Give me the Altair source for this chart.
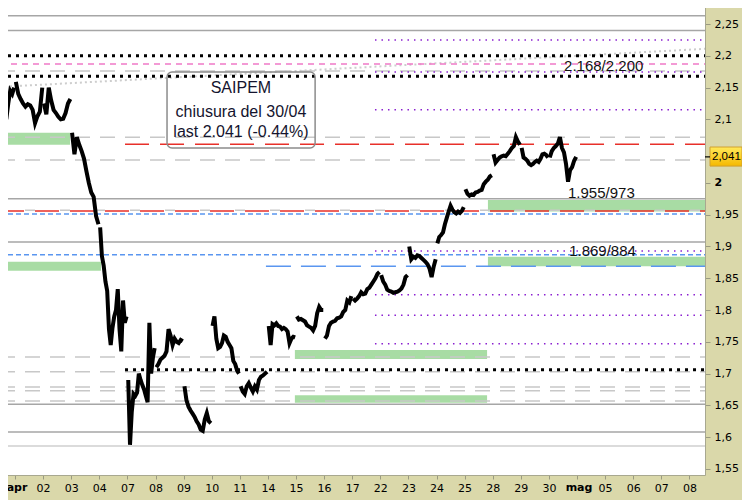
import altair as alt
import pandas as pd

# ---------------- data ----------------
DAY_LABELS = ["apr", "02", "03", "04", "07", "08", "09", "10", "11", "14", "15", "16",
              "17", "22", "23", "24", "25", "28", "29", "30", "mag", "05", "06", "07", "08"]
MONTH_DAYS = [0, 20]   # ticks whose label is a month name (shown bold)

# tail of the previous session (31/03), explicit positions in trading-day units
PRE_TIMES = [-0.52, -0.45, -0.38, -0.31, -0.24, -0.17, -0.10, -0.03]
PRE_PRICES = [2.112, 2.104, 2.118, 2.100, 2.125, 2.145, 2.140, 2.150]

# intraday prices, one list per trading day (evenly spread across the session)
DAY_PRICES = [
    [2.159, 2.140, 2.132, 2.125, 2.120, 2.124, 2.122, 2.115, 2.094, 2.105, 2.112, 2.150],
    [2.125, 2.108, 2.150, 2.130, 2.115, 2.110, 2.104, 2.100, 2.101, 2.110, 2.125, 2.132],
    [2.079, 2.045, 2.072, 2.060, 2.050, 2.038, 2.018, 2.000, 1.985, 1.978, 1.948, 1.935],
    [1.930, 1.885, 1.870, 1.845, 1.830, 1.770, 1.745, 1.772, 1.790, 1.800, 1.833, 1.770,
     1.735, 1.815, 1.780, 1.790],
    [1.690, 1.588, 1.640, 1.668, 1.665, 1.670, 1.700, 1.690, 1.682, 1.675, 1.665, 1.655,
     1.780, 1.700, 1.725, 1.740],
    [1.710, 1.715, 1.722, 1.725, 1.728, 1.735, 1.770, 1.760, 1.745, 1.755, 1.750, 1.748,
     1.753, 1.751],
    [1.680, 1.658, 1.648, 1.642, 1.637, 1.632, 1.625, 1.620, 1.612, 1.610, 1.628, 1.638,
     1.625, 1.622],
    [1.775, 1.790, 1.755, 1.740, 1.742, 1.748, 1.760, 1.758, 1.750, 1.745, 1.740, 1.720,
     1.715, 1.705, 1.700],
    [1.680, 1.672, 1.668, 1.680, 1.685, 1.678, 1.672, 1.680, 1.675, 1.690, 1.695, 1.697,
     1.700, 1.703],
    [1.775, 1.745, 1.778, 1.776, 1.779, 1.775, 1.774, 1.770, 1.772, 1.770, 1.766, 1.748,
     1.755, 1.758, 1.757],
    [1.790, 1.785, 1.786, 1.784, 1.782, 1.776, 1.774, 1.772, 1.768, 1.775, 1.795, 1.805,
     1.800, 1.800],
    [1.755, 1.760, 1.775, 1.780, 1.782, 1.783, 1.787, 1.788, 1.790, 1.797, 1.800, 1.815,
     1.812, 1.822],
    [1.818, 1.815, 1.818, 1.822, 1.828, 1.825, 1.826, 1.833, 1.835, 1.840, 1.845, 1.850,
     1.857, 1.860],
    [1.855, 1.845, 1.840, 1.832, 1.830, 1.829, 1.827, 1.828, 1.829, 1.831, 1.834, 1.840,
     1.852, 1.855],
    [1.900, 1.880, 1.884, 1.882, 1.886, 1.885, 1.882, 1.879, 1.876, 1.872, 1.865, 1.852,
     1.868, 1.880],
    [1.905, 1.915, 1.918, 1.922, 1.935, 1.945, 1.955, 1.964, 1.958, 1.954, 1.952, 1.955,
     1.953, 1.956, 1.962],
    [1.990, 1.983, 1.980, 1.982, 1.981, 1.985, 1.986, 1.988, 1.989, 1.998, 2.002, 2.005,
     2.010, 2.012],
    [2.045, 2.032, 2.036, 2.040, 2.042, 2.043, 2.042, 2.046, 2.050, 2.055, 2.058, 2.072,
     2.065, 2.060],
    [2.055, 2.040, 2.038, 2.035, 2.030, 2.028, 2.030, 2.033, 2.035, 2.033, 2.038, 2.045,
     2.046, 2.044, 2.040],
    [2.040, 2.050, 2.055, 2.058, 2.062, 2.072, 2.055, 2.048, 2.030, 2.002, 2.020, 2.025,
     2.035, 2.041],
]

X_MIN, X_MAX = -0.534, 24.555
Y_MIN, Y_MAX = 1.5405, 2.2878

# horizontal levels: value, start, style
LEVEL_VALUES = [2.263, 2.240, 2.225, 2.200, 2.187, 2.176, 2.1745, 2.168, 2.115, 2.072,
                2.061, 2.036, 1.975, 1.957, 1.956, 1.951, 1.907, 1.893, 1.887, 1.869,
                1.824, 1.792, 1.747, 1.726, 1.706, 1.703, 1.679, 1.673, 1.657, 1.652,
                1.608, 1.586]
LEVEL_START = [X_MIN, X_MIN, 12.81, X_MIN, X_MIN, X_MIN, 12.81, X_MIN, 12.81, X_MIN,
               3.915, X_MIN, X_MIN, X_MIN, X_MIN, X_MIN, X_MIN, 12.81, X_MIN, 8.93,
               12.81, 12.81, 12.81, X_MIN, 3.915, X_MIN, X_MIN, X_MIN, X_MIN, X_MIN,
               X_MIN, X_MIN]
LEVEL_STYLE = ["gsolid", "gsolid", "purple", "black", "pink", "gdash", "purple", "black",
               "purple", "gdash", "red", "gdash", "gsolid", "gdash2", "red", "blue",
               "gsolid", "purple", "blue", "bluelong", "purple", "purple", "purple",
               "gdash", "black", "gdash", "gdash", "gdash", "gdash", "gsolid", "gsolid",
               "glight"]

STYLES = {
    "gsolid": dict(color="#a6a6a6", strokeWidth=1.5),
    "glight": dict(color="#cfcfcf", strokeWidth=1.5),
    "gdash": dict(color="#c8c8c8", strokeWidth=1.5, strokeDash=[15, 10]),
    "gdash2": dict(color="#c8c8c8", strokeWidth=1.5, strokeDash=[10, 25], strokeDashOffset=-25),
    "red": dict(color="#e8302a", strokeWidth=1.5, strokeDash=[24, 11]),
    "blue": dict(color="#5a96f0", strokeWidth=1.5, strokeDash=[5, 3]),
    "bluelong": dict(color="#5a96f0", strokeWidth=1.5, strokeDash=[25, 10]),
    "pink": dict(color="#f07ac8", strokeWidth=1.5, strokeDash=[6, 5]),
    "purple": dict(color="#8a1ed0", strokeWidth=1.5, strokeDash=[1.5, 5]),
    "black": dict(color="#000000", strokeWidth=3, strokeDash=[3, 5]),
}

# support / resistance bands
BAND_X1 = [X_MIN, X_MIN, 16.83, 16.83, 9.96, 9.96]
BAND_X2 = [1.96, 3.06, X_MAX, X_MAX, 16.80, 16.80]
BAND_LOW = [2.060, 1.862, 1.955, 1.869, 1.723, 1.654]
BAND_HIGH = [2.079, 1.876, 1.973, 1.884, 1.737, 1.666]

# trend line
TREND_T = [X_MIN, X_MAX]
TREND_P = [2.151, 2.211]

# annotation texts
BOX_LINES = ["SAIPEM", "chiusura del 30/04", "last 2.041 (-0.44%)"]
BOX_LINE_Y = [2.142, 2.104, 2.072]
LEVEL_LABELS = ["2.168/2.200", "1.955/973", "1.869/884"]
LEVEL_LABEL_T = [19.54, 19.68, 19.72]
LEVEL_LABEL_Y = [2.176, 1.976, 1.885]
LAST_PRICE = 2.041

Y_TICKS = [1.55, 1.6, 1.65, 1.7, 1.75, 1.8, 1.85, 1.9, 1.95, 2.0, 2.1, 2.15, 2.2, 2.25]

# ---------------- tables ----------------
rows = [{"t": t, "price": p, "day": -1} for t, p in zip(PRE_TIMES, PRE_PRICES)]
for d, prices in enumerate(DAY_PRICES):
    n = len(prices)
    for k, p in enumerate(prices):
        rows.append({"t": d + 0.03 + 0.94 * k / (n - 1), "price": p, "day": d})
price_df = pd.DataFrame(rows)

level_df = pd.DataFrame({"value": LEVEL_VALUES, "start": LEVEL_START,
                         "end": [X_MAX] * len(LEVEL_VALUES), "style": LEVEL_STYLE})
band_df = pd.DataFrame({"x1": BAND_X1, "x2": BAND_X2, "lo": BAND_LOW, "hi": BAND_HIGH})
trend_df = pd.DataFrame({"t1": [TREND_T[0]], "t2": [TREND_T[1]],
                         "p1": [TREND_P[0]], "p2": [TREND_P[1]]})
box_df = pd.DataFrame({"x1": [5.41], "x2": [10.68], "y1": [2.1745], "y2": [2.055]})
box_text_df = pd.DataFrame({"text": BOX_LINES, "t": [8.04] * 3, "y": BOX_LINE_Y})
lab_df = pd.DataFrame({"text": LEVEL_LABELS, "t": LEVEL_LABEL_T, "y": LEVEL_LABEL_Y})
last_df = pd.DataFrame({"y": [LAST_PRICE], "lo": [LAST_PRICE - 0.0145],
                        "hi": [LAST_PRICE + 0.0155], "text": ["2,041"]})
month_df = pd.DataFrame({"t": MONTH_DAYS, "text": [DAY_LABELS[i] for i in MONTH_DAYS]})

xs = alt.Scale(domain=[X_MIN, X_MAX], nice=False, zero=False)
ys = alt.Scale(domain=[Y_MIN, Y_MAX], nice=False, zero=False)

# month names are drawn separately in bold
plain_labels = ["" if i in MONTH_DAYS else s for i, s in enumerate(DAY_LABELS)]
label_arr = "[" + ",".join("'%s'" % s for s in plain_labels) + "]"

x_axis = alt.Axis(values=list(range(len(DAY_LABELS))), tickCount=200,
                  labelExpr=label_arr + "[datum.value]",
                  grid=False, tickSize=4, tickColor="#9a9a80", domainColor="#a8a890",
                  labelFont="DejaVu Sans", labelFontSize=11, labelColor="#000",
                  labelPadding=3, title=None, labelOverlap=False)
y_axis = alt.Axis(orient="right", values=Y_TICKS, tickCount=200,
                  labelExpr="replace(format(datum.value, '.2~f'), '.', ',')",
                  grid=False, tickSize=5, tickColor="#9a9a80", domainColor="#a8a890",
                  labelFont="DejaVu Sans", labelFontSize=11, labelColor="#000",
                  labelPadding=4, title=None, labelOverlap=False,
                  labelFontWeight={"condition": {"test": "datum.value == 2", "value": "bold"},
                                   "value": "normal"})

layers = []

bands = alt.Chart(band_df).mark_rect(color="#a8dca4").encode(
    x=alt.X("x1:Q", scale=xs, axis=x_axis), x2="x2:Q",
    y=alt.Y("lo:Q", scale=ys, axis=y_axis), y2="hi:Q")
layers.append(bands)

trend = alt.Chart(trend_df).mark_rule(color="#cdcdcd", strokeWidth=2, strokeDash=[2, 3]).encode(
    x=alt.X("t1:Q", scale=xs), x2="t2:Q",
    y=alt.Y("p1:Q", scale=ys), y2="p2:Q")
layers.append(trend)

for style, props in STYLES.items():
    sub = level_df[level_df["style"] == style]
    layers.append(alt.Chart(sub).mark_rule(**props).encode(
        x=alt.X("start:Q", scale=xs), x2="end:Q",
        y=alt.Y("value:Q", scale=ys)))

price = alt.Chart(price_df).mark_line(color="#000000", strokeWidth=4, clip=True).encode(
    x=alt.X("t:Q", scale=xs),
    y=alt.Y("price:Q", scale=ys),
    detail="day:N")
layers.append(price)

box = alt.Chart(box_df).mark_rect(fillOpacity=0, stroke="#8c8c8c", strokeWidth=1.5,
                                  cornerRadius=5).encode(
    x=alt.X("x1:Q", scale=xs), x2="x2:Q",
    y=alt.Y("y1:Q", scale=ys), y2="y2:Q")
layers.append(box)

box_text = alt.Chart(box_text_df).mark_text(font="Liberation Sans", fontSize=16,
                                            color="#14142e", align="center",
                                            baseline="alphabetic").encode(
    x=alt.X("t:Q", scale=xs), y=alt.Y("y:Q", scale=ys), text="text:N")
layers.append(box_text)

labels = alt.Chart(lab_df).mark_text(font="Liberation Sans", fontSize=15, color="#111111",
                                     align="left", baseline="alphabetic").encode(
    x=alt.X("t:Q", scale=xs), y=alt.Y("y:Q", scale=ys), text="text:N")
layers.append(labels)

months = alt.Chart(month_df).mark_text(font="DejaVu Sans", fontSize=11, fontWeight="bold",
                                       color="#000", align="center", baseline="alphabetic",
                                       dx=2).encode(
    x=alt.X("t:Q", scale=xs), y=alt.value(491), text="text:N")
layers.append(months)

last_box = alt.Chart(last_df).mark_rect(
    color=alt.Gradient(gradient="linear", x1=0, x2=0, y1=0, y2=1,
                       stops=[alt.GradientStop(color="#ffe95a", offset=0),
                              alt.GradientStop(color="#f5b800", offset=1)]),
    stroke="#d0a030", strokeWidth=1).encode(
    x=alt.value(710), x2=alt.value(742),
    y=alt.Y("lo:Q", scale=ys), y2="hi:Q")
layers.append(last_box)

last_tick = alt.Chart(last_df).mark_rule(color="#000", strokeWidth=1.2).encode(
    x=alt.value(705), x2=alt.value(710), y=alt.Y("y:Q", scale=ys))
layers.append(last_tick)

last_text = alt.Chart(last_df).mark_text(font="Liberation Sans", fontSize=11.5, color="#000",
                                         align="left", baseline="middle").encode(
    x=alt.value(712), y=alt.Y("y:Q", scale=ys), text="text:N")
layers.append(last_text)

chart = alt.layer(*layers).properties(
    width=705, height=475,
    autosize=alt.AutoSizeParams(type="none"),
    padding={"left": -8, "top": -8, "right": 37, "bottom": 25},
    background="#dad8aa",
).configure_view(strokeWidth=0, fill="#ffffff").configure_axis(
    labelOverlap=False, labelBound=False, labelFlush=False)

chart.save("out.html", embed_options={"renderer": "svg", "actions": False})
